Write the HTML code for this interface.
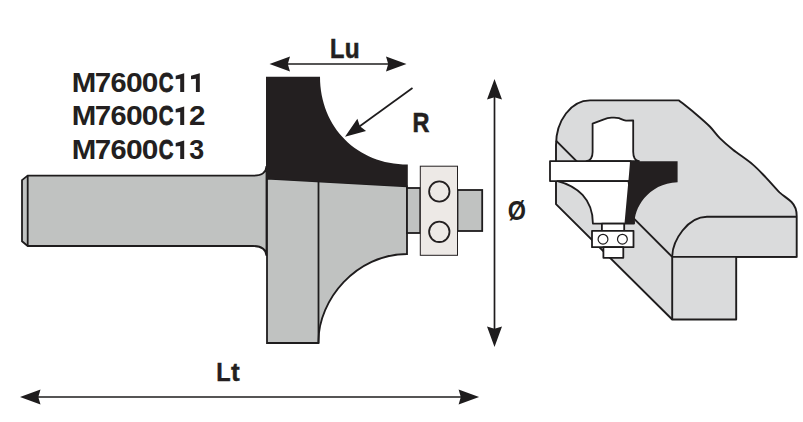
<!DOCTYPE html>
<html><head><meta charset="utf-8">
<style>
html,body{margin:0;padding:0;background:#fff;}
body{width:803px;height:422px;overflow:hidden;}
svg{display:block;}
text{font-family:"Liberation Sans",sans-serif;font-weight:bold;fill:#231f20;}
</style></head>
<body>
<svg width="803" height="422" viewBox="0 0 803 422">
<defs>
<path id="ah" d="M0,0 L-20.5,-7.5 L-18.3,0 L-20.5,7.5 Z" fill="#1e1c1d"/>
</defs>
<g stroke="#1e1c1d" stroke-width="1.8" stroke-linejoin="miter">
<!-- shank -->
<path d="M27.7,175.6 L254,175.6 Q266,175.6 266.5,166 L266.5,256 Q266,246 253,246 L27.7,246 L22,241.3 L22,180.1 Z" fill="#c0c2c1"/>
<line x1="27.7" y1="175.6" x2="27.7" y2="246"/>
<!-- body grey -->
<path d="M267,178.7 L407,186.4 L407,254 C356,254 318.5,300 318.5,341 L318.5,343 L267,343 Z" fill="#c0c2c1"/>
<line x1="318.5" y1="181" x2="318.5" y2="343"/>
<!-- small shafts -->
<rect x="407" y="188" width="13.3" height="45" fill="#c0c2c1"/>
<rect x="457.5" y="190" width="24.7" height="41" fill="#c0c2c1"/>
</g>
<!-- black cutter -->
<path d="M266,76.7 L320,76.7 C320,127.2 357.3,164.5 407.8,164.5 L407.8,186.4 L266,178.7 Z" fill="#231f20"/>
<!-- bearing -->
<g stroke="#231f20">
<rect x="420.3" y="166.2" width="37.2" height="89.1" fill="#ede9e6" stroke-width="1"/>
<circle cx="439.3" cy="191.5" r="10.2" fill="#ede9e6" stroke-width="1.8"/>
<circle cx="439.3" cy="231.8" r="10.2" fill="#ede9e6" stroke-width="1.8"/>
</g>
<!-- dimension lines -->
<g stroke="#1e1c1d" stroke-width="1.7">
<line x1="286" y1="64" x2="390" y2="64"/>
<line x1="494.5" y1="96" x2="494.5" y2="330"/>
<line x1="37" y1="397" x2="462" y2="397"/>
<line x1="412.5" y1="88" x2="358" y2="127.5"/>
</g>
<use href="#ah" transform="translate(269.5,64) rotate(180)"/>
<use href="#ah" transform="translate(406.5,64)"/>
<use href="#ah" transform="translate(494.5,79) rotate(-90)"/>
<use href="#ah" transform="translate(494.5,347) rotate(90)"/>
<use href="#ah" transform="translate(20,397) rotate(180)"/>
<use href="#ah" transform="translate(479.1,397)"/>
<use href="#ah" transform="translate(345,136.8) rotate(144.6)"/>

<!-- texts -->
<text transform="translate(71.65,91.90) scale(1.082,1)" font-size="27.2">M</text>
<text transform="translate(94.63,91.90) scale(1.088,1)" font-size="27.2">7</text>
<text transform="translate(110.55,91.90) scale(1.065,1)" font-size="27.2">6</text>
<text transform="translate(126.03,91.90) scale(1.105,1)" font-size="27.2">0</text>
<text transform="translate(141.83,91.90) scale(1.098,1)" font-size="27.2">0</text>
<text transform="translate(158.66,91.90) scale(0.754,1)" font-size="27.2" stroke="#231f20" stroke-width="0.80">C</text>
<path d="M184.2,73.2 L184.2,91.9 L180.2,91.9 L180.2,78.8 L175.7,79.2 L175.7,75.8 Z" fill="#231f20"/>
<path d="M199.8,73.2 L199.8,91.9 L195.9,91.9 L195.9,78.8 L191.0,79.2 L191.0,75.8 Z" fill="#231f20"/>
<text transform="translate(71.65,124.90) scale(1.082,1)" font-size="27.2">M</text>
<text transform="translate(94.63,124.90) scale(1.088,1)" font-size="27.2">7</text>
<text transform="translate(110.55,124.90) scale(1.065,1)" font-size="27.2">6</text>
<text transform="translate(126.03,124.90) scale(1.105,1)" font-size="27.2">0</text>
<text transform="translate(141.83,124.90) scale(1.098,1)" font-size="27.2">0</text>
<text transform="translate(158.66,124.90) scale(0.754,1)" font-size="27.2" stroke="#231f20" stroke-width="0.80">C</text>
<path d="M184.2,106.5 L184.2,124.9 L180.2,124.9 L180.2,112.1 L175.7,112.5 L175.7,109.1 Z" fill="#231f20"/>
<text transform="translate(188.89,124.90) scale(1.090,1)" font-size="27.2">2</text>
<text transform="translate(71.65,158.90) scale(1.082,1)" font-size="27.2">M</text>
<text transform="translate(94.63,158.90) scale(1.088,1)" font-size="27.2">7</text>
<text transform="translate(110.55,158.90) scale(1.065,1)" font-size="27.2">6</text>
<text transform="translate(126.03,158.90) scale(1.105,1)" font-size="27.2">0</text>
<text transform="translate(141.83,158.90) scale(1.098,1)" font-size="27.2">0</text>
<text transform="translate(158.66,158.90) scale(0.754,1)" font-size="27.2" stroke="#231f20" stroke-width="0.80">C</text>
<path d="M184.2,140.5 L184.2,158.9 L180.2,158.9 L180.2,146.1 L175.7,146.5 L175.7,143.1 Z" fill="#231f20"/>
<text transform="translate(189.27,158.90) scale(0.986,1)" font-size="27.2">3</text>
<text transform="translate(329.99,57.90) scale(0.850,1)" font-size="27.7" stroke="#231f20" stroke-width="0.59">L</text>
<text transform="translate(344.65,57.90) scale(0.881,1)" font-size="27.7" stroke="#231f20" stroke-width="0.57">u</text>
<text transform="translate(412.39,131.70) scale(0.869,1)" font-size="27.0" stroke="#231f20" stroke-width="0.58">R</text>
<text transform="translate(216.34,380.70) scale(0.882,1)" font-size="26.7" stroke="#231f20" stroke-width="0.45">L</text>
<text transform="translate(231.09,380.70) scale(0.980,1)" font-size="26.7" stroke="#231f20" stroke-width="0.41">t</text>
<text transform="translate(507.84,219.90) scale(0.868,1)" font-size="27.0">Ø</text>

<!-- workpiece -->
<g stroke="#1e1c1d" stroke-width="1.9" fill="#dadbdc" stroke-linejoin="round">
<path d="M590,100.4 L679,100.4 C681.6,102.5 689.8,108.9 694.9,113.2 C700.0,117.5 705.6,122.3 709.8,126.5 C713.9,130.7 715.9,134.2 719.8,138.1 C723.7,142.0 727.5,145.3 733.0,149.7 C738.5,154.1 747.4,159.9 752.9,164.6 C758.4,169.3 761.8,173.3 766.2,177.9 C770.6,182.5 775.5,188.4 779.5,192.4 C783.5,196 788,198.5 791.5,202 C795,205.5 796.7,210 796.7,216.0 L796.7,256.9 L736.2,256.9 L736.2,319.5 L672.2,319.5 L556,204.2 L556,145 A34,44.6 0 0 1 590,100.4 Z"/>
<path d="M556,140.7 L672.2,256.9" fill="none"/>
<path d="M672.2,319.5 L672.2,256.9 C672.4,240 688,216.8 707,216.8 L796.7,216.8 M672.2,256.9 L796.7,256.9" fill="none"/>
</g>
<!-- router bit in workpiece -->
<g stroke="#1e1c1d" stroke-width="1.8" stroke-linejoin="round">
<!-- shank white -->
<path d="M586.5,161.2 C590.5,160.4 592.6,157 592.6,152 L592.6,123.7 L604.6,119.1 C608,117.6 615,117.2 619,118.1 C621.5,119 623,120.3 626,120.6 L633.2,120.4 L633.2,151.7 C633.2,157 635,160.6 639,161.2 Z" fill="#fff"/>
<!-- collar -->
<rect x="550" y="161.2" width="80.8" height="19.9" fill="#fff"/>
<!-- body white -->
<path d="M557.5,181.1 C577,186 593,199 592.9,223.6 L634,223.6 L628.5,181.1 Z" fill="#fff"/>
<!-- neck -->
<rect x="601.9" y="223.6" width="22.3" height="7.2" fill="#fff"/>
<!-- bearing -->
<rect x="592" y="230.8" width="41.5" height="16.4" fill="#fff"/>
<rect x="603.4" y="247.2" width="19.9" height="10.6" fill="#fff"/>
<circle cx="603" cy="239.2" r="4.9" fill="#fff" stroke-width="1.2"/>
<circle cx="622.4" cy="239.2" r="4.9" fill="#fff" stroke-width="1.2"/>
</g>
<!-- black cutter right -->
<path d="M630.2,161.2 L677.6,161.2 L677.6,182.3 C648,183 633,210 635,223.4 L624.5,223.4 Z" fill="#231f20"/>
</svg>
</body></html>
